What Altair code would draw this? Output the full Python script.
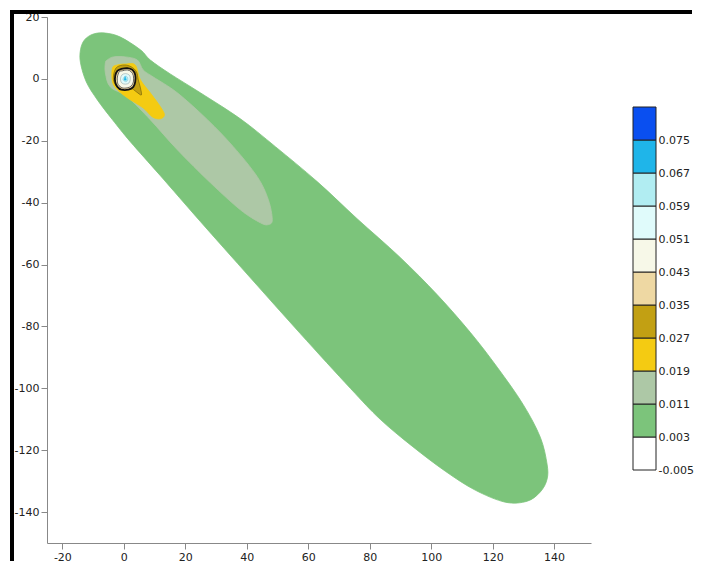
import altair as alt
import pandas as pd

# colour bar: lower bounds of each band and its colour
levels = [-0.005, 0.003, 0.011, 0.019, 0.027, 0.035, 0.043, 0.051, 0.059, 0.067, 0.075]
step = 0.008
colors = ["#FFFFFF", "#7CC47B", "#ADC8A6", "#F4CB12", "#C2A013", "#EED8A3",
          "#F7F8E8", "#E0FBFB", "#B1EDF2", "#1FB5E9", "#0A4FF0"]

x_ticks = [-20, 0, 20, 40, 60, 80, 100, 120, 140]
y_ticks = [20, 0, -20, -40, -60, -80, -100, -120, -140]

# contour outlines (data units)
c003_x = [-14.1, -12.8, -9.9, -6.0, -1.1, 5.4, 8.6, 15.1, 24.9, 37.9, 49.3, 62.9, 75.9,
          89.9, 101.9, 112.7, 121.5, 129.9, 135.5, 137.7, 137.7, 135.5, 131.2, 124.1,
          114.3, 104.6, 93.8, 83.4, 73.7, 57.4, 41.1, 24.9, 11.9, 2.1, -3.7, -8.6,
          -12.2, -14.1]
c003_y = [9.4, 12.6, 14.5, 14.8, 13.5, 9.4, 6.1, 1.6, -4.5, -12.9, -21.9, -33.2, -45.2,
          -57.7, -69.7, -81.9, -93.2, -105.2, -115.8, -124.5, -129.4, -133.5, -136.5,
          -136.8, -132.9, -126.8, -118.7, -110.0, -100.0, -82.3, -64.2, -46.1, -31.3,
          -20.3, -13.2, -6.8, -1.0, 5.2]

c011_x = [-5.4, -3.4, 0.5, 4.4, 6.3, 9.6, 17.4, 27.2, 35.6, 43.4, 47.0, 48.3, 47.0, 44.4,
          37.9, 28.1, 17.4, 8.6, 1.1, -4.4, -6.0, -6.0]
c011_y = [6.1, 7.1, 7.1, 6.1, 2.9, 0.6, -4.5, -13.2, -21.9, -31.6, -39.0, -45.5, -47.1,
          -46.5, -42.3, -33.5, -22.9, -13.2, -5.8, -2.6, 1.9, 5.2]

c019_x = [-3.7, -2.1, 0.5, 3.7, 5.4, 8.6, 11.9, 13.2, 11.9, 9.3, 6.3, 1.1, -2.1, -3.7]
c019_y = [3.5, 4.5, 4.8, 4.5, -0.3, -4.5, -9.0, -11.6, -12.9, -12.3, -9.4, -6.1, -3.5, -1.0]

c027_x = [-3.1, -2.1, 0.2, 2.4, 4.1, 4.7, 5.4, 5.7, 4.1, 2.1, -0.5, -2.4, -3.4]
c027_y = [2.3, 3.9, 4.5, 3.9, 2.3, -0.3, -2.9, -5.2, -4.2, -2.9, -3.2, -2.3, -0.3]

c035_x = [-2.8, -2.1, -0.8, 1.1, 2.8, 3.7, 3.7, 3.1, 1.5, -0.8, -2.1, -2.8]
c035_y = [1.0, 2.6, 3.2, 3.5, 2.9, 1.3, -1.0, -2.6, -3.5, -3.5, -2.6, -1.0]

c043_x = [-2.1, -1.5, -0.5, 1.1, 2.4, 3.1, 3.1, 2.4, 1.1, -0.5, -1.8, -2.1]
c043_y = [0.6, 2.3, 2.6, 2.9, 2.3, 1.0, -1.0, -2.3, -2.9, -2.9, -1.9, -0.6]

c051_x = [-1.1, -0.6, 0.6, 1.8, 2.1, 1.7, 0.5, -0.7]
c051_y = [0.0, 1.3, 1.7, 1.2, 0.0, -1.3, -1.7, -1.3]

c059_x = [-0.3, 0.2, 0.8, 1.3, 1.2, 0.5]
c059_y = [-0.2, 0.7, 0.9, 0.3, -0.6, -0.9]

c067_x = [0.4, 0.1, 0.8]
c067_y = [0.8, -0.4, -0.4]

contours = [
    (1, c003_x, c003_y, None, 0, "cardinal-closed"),
    (2, c011_x, c011_y, None, 0, "cardinal-closed"),
    (3, c019_x, c019_y, None, 0, "cardinal-closed"),
    (4, c027_x, c027_y, "#6b5a08", 0.6, "cardinal-closed"),
    (5, c035_x, c035_y, "#111111", 1.8, "cardinal-closed"),
    (6, c043_x, c043_y, "#444444", 0.8, "cardinal-closed"),
    (7, c051_x, c051_y, "#9aa7a7", 0.6, "cardinal-closed"),
    (8, c059_x, c059_y, "#8fbfcc", 0.5, "cardinal-closed"),
    (9, c067_x, c067_y, "#1FB5E9", 0.5, "linear-closed"),
]

W, H = 544, 526

x_scale = alt.Scale(domain=[-25, 152], nice=False, zero=False)
y_scale = alt.Scale(domain=[-150, 20], nice=False, zero=False)
x_axis = alt.Axis(values=x_ticks, labelExpr="toString(datum.value)", title=None, grid=False)
y_axis = alt.Axis(values=y_ticks, labelExpr="toString(datum.value)", title=None, grid=False)

layers = []
for idx, xs, ys, stroke, sw, interp in contours:
    df = pd.DataFrame({"i": list(range(len(xs))), "x": xs, "y": ys})
    col = colors[idx]
    layers.append(
        alt.Chart(df).mark_line(
            interpolate=interp,
            fill=col,
            stroke=stroke if stroke else col,
            strokeWidth=sw if stroke else 0.8,
        ).encode(
            x=alt.X("x:Q", scale=x_scale, axis=x_axis),
            y=alt.Y("y:Q", scale=y_scale, axis=y_axis),
            order=alt.Order("i:Q"),
        )
    )

frame_df = pd.DataFrame({"k": [0]})
frame_left = alt.Chart(frame_df).mark_rule(color="black", strokeWidth=4).encode(
    x=alt.value(-35), y=alt.value(-7), y2=alt.value(H + 18)
)
frame_top = alt.Chart(frame_df).mark_rule(color="black", strokeWidth=4).encode(
    x=alt.value(-37), x2=alt.value(645), y=alt.value(-5)
)

main = alt.layer(*layers, frame_left, frame_top).properties(width=W, height=H)

# colour bar
bar_df = pd.DataFrame({
    "lo": levels,
    "hi": [round(v + step, 3) for v in levels],
    "band": [str(i) for i in range(len(levels))],
})
px_per_unit = 363 / (levels[-1] + step - levels[0])
bar_top = levels[-1] + step + 90 / px_per_unit
bar_bot = levels[0] - (H - 453) / px_per_unit

colorbar = alt.Chart(bar_df).mark_rect(stroke="#222222", strokeWidth=1).encode(
    x=alt.value(0),
    x2=alt.value(23),
    y=alt.Y("lo:Q", scale=alt.Scale(domain=[bar_bot, bar_top], nice=False, zero=False),
            axis=alt.Axis(orient="right", values=levels, labelExpr="toString(datum.value)",
                          title=None, domain=False, ticks=False, grid=False, labelPadding=2)),
    y2="hi:Q",
    fill=alt.Fill("band:N", scale=alt.Scale(domain=[str(i) for i in range(len(levels))],
                                           range=colors), legend=None),
).properties(width=23, height=H)

chart = alt.hconcat(main, colorbar, spacing=42, bounds="flush").properties(
    padding={"left": 0, "top": 0, "right": 0, "bottom": 0}
).configure_view(strokeWidth=0).configure_axis(
    domainColor="#888888", tickColor="#888888", labelColor="#222222",
    labelFont="DejaVu Sans", labelFontSize=11, tickSize=6, labelPadding=2,
)

chart.save("out.html", embed_options={"renderer": "svg", "actions": False})
